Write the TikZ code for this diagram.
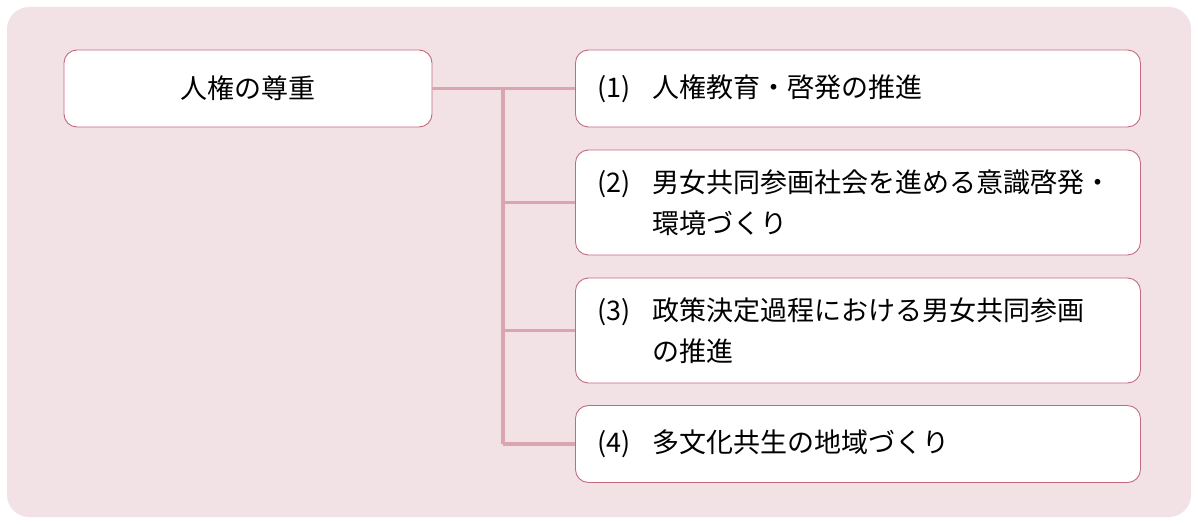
\documentclass[tikz,border=0pt]{standalone}
\usepackage{fontspec}
\setmainfont{Noto Sans CJK JP}
\definecolor{bgpink}{HTML}{F2E2E6}
\definecolor{boxrim}{HTML}{C26A7E}
\definecolor{linkpink}{HTML}{D9A5B0}
\tikzset{
  itembox/.style={draw=boxrim, line width=0.9pt, fill=white, rounded corners=13pt,
    font=\fontsize{27}{41}\selectfont, inner xsep=22pt, inner ysep=0pt},
  linkline/.style={draw=linkpink, line width=3.2pt}
}
\newcommand{\numlabel}[1]{\makebox[55pt][l]{(#1)}}
\begin{document}
\begin{tikzpicture}[x=1pt, y=-1pt]
    \useasboundingbox (0,0) rectangle (1198,524);
    % === 背景 ===
    \fill[bgpink, rounded corners=22pt] (7,7) rectangle (1191,517);

    % === 左の項目 ===
    \node[itembox, minimum width=368pt, minimum height=77pt] (root) at (248,88.5) {人権の尊重};

    % === 右の項目 ===
    \node[itembox, anchor=west, text width=521pt, minimum height=77pt, align=left] (item1) at (575,88.5)
        {\numlabel{1}人権教育・啓発の推進};
    \node[itembox, anchor=west, text width=521pt, minimum height=105pt, align=left] (item2) at (575,202.5)
        {\numlabel{2}男女共同参画社会を進める意識啓発・\\\hspace*{55pt}環境づくり};
    \node[itembox, anchor=west, text width=521pt, minimum height=105pt, align=left] (item3) at (575,330.5)
        {\numlabel{3}政策決定過程における男女共同参画\\\hspace*{55pt}の推進};
    \node[itembox, anchor=west, text width=521pt, minimum height=77pt, align=left] (item4) at (575,444)
        {\numlabel{4}多文化共生の地域づくり};

    % === 接続線 ===
    \coordinate (fork) at (503,88.5);
    \coordinate (forkend) at (503,444);
    \draw[linkline] (root.east) -- (item1.west);
    \draw[linkline] (fork) -- (forkend);
    \foreach \i in {2,3,4}
        \draw[linkline] (fork |- item\i.west) -- (item\i.west);
\end{tikzpicture}
\end{document}
